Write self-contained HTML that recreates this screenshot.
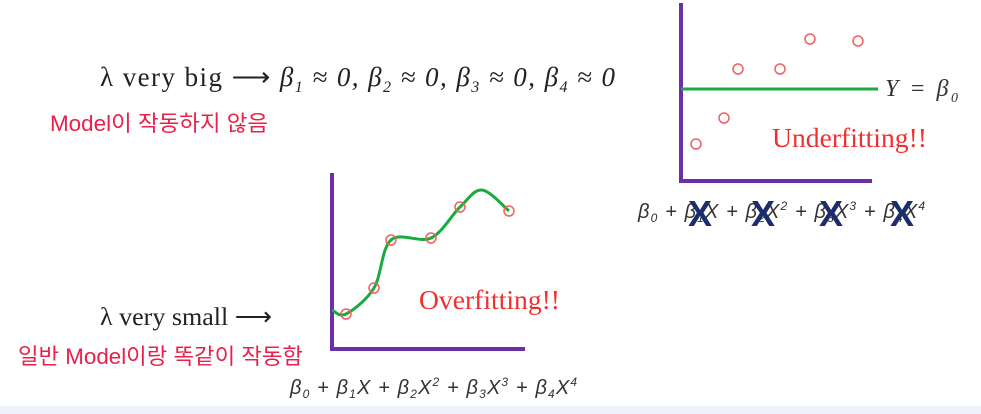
<!DOCTYPE html>
<html><head><meta charset="utf-8"><style>
html,body{margin:0;padding:0;background:#fff;}
svg{display:block;}
.serif{font-family:"Liberation Serif",serif;}
.kr{font-family:"Liberation Sans","Noto Sans CJK KR",sans-serif;fill:#e8204a;}
</style></head><body>
<svg id="s" width="981" height="414" viewBox="0 0 981 414" xmlns="http://www.w3.org/2000/svg">
<rect x="0" y="406" width="981" height="8" fill="#eef1fa"/>
<text x="100" y="86" class="serif" font-size="27" fill="#222" textLength="515" lengthAdjust="spacing">λ very big ⟶  <tspan font-style="italic">β<tspan font-size="16" dy="6">1</tspan><tspan dy="-6"> ≈ 0,  β</tspan><tspan font-size="16" dy="6">2</tspan><tspan dy="-6"> ≈ 0, β</tspan><tspan font-size="16" dy="6">3</tspan><tspan dy="-6"> ≈ 0, β</tspan><tspan font-size="16" dy="6">4</tspan><tspan dy="-6"> ≈ 0</tspan></tspan></text>
<text x="50" y="131" class="kr" font-size="22" textLength="218" lengthAdjust="spacingAndGlyphs">Model이 작동하지 않음</text>
<text x="100" y="325" class="serif" font-size="25" fill="#222" textLength="172" lengthAdjust="spacingAndGlyphs">λ very small ⟶</text>
<text x="18" y="364" class="kr" font-size="22" textLength="285" lengthAdjust="spacingAndGlyphs">일반 Model이랑 똑같이 작동함</text>
<text x="290" y="394" font-family="Liberation Sans,sans-serif" font-style="italic" font-size="20" fill="#333" textLength="287" lengthAdjust="spacing">β<tspan font-size="12" dy="4">0</tspan><tspan dy="-4"> + β</tspan><tspan font-size="12" dy="4">1</tspan><tspan dy="-4">X + β</tspan><tspan font-size="12" dy="4">2</tspan><tspan dy="-4">X</tspan><tspan font-size="12" dy="-8">2</tspan><tspan dy="8"> + β</tspan><tspan font-size="12" dy="4">3</tspan><tspan dy="-4">X</tspan><tspan font-size="12" dy="-8">3</tspan><tspan dy="8"> + β</tspan><tspan font-size="12" dy="4">4</tspan><tspan dy="-4">X</tspan><tspan font-size="12" dy="-8">4</tspan></text>
<text x="638" y="218" font-family="Liberation Sans,sans-serif" font-style="italic" font-size="20" fill="#333" textLength="287" lengthAdjust="spacing">β<tspan font-size="12" dy="4">0</tspan><tspan dy="-4"> + β</tspan><tspan font-size="12" dy="4">1</tspan><tspan dy="-4">X + β</tspan><tspan font-size="12" dy="4">2</tspan><tspan dy="-4">X</tspan><tspan font-size="12" dy="-8">2</tspan><tspan dy="8"> + β</tspan><tspan font-size="12" dy="4">3</tspan><tspan dy="-4">X</tspan><tspan font-size="12" dy="-8">3</tspan><tspan dy="8"> + β</tspan><tspan font-size="12" dy="4">4</tspan><tspan dy="-4">X</tspan><tspan font-size="12" dy="-8">4</tspan></text>
<g font-family="Liberation Sans,sans-serif" font-weight="bold" font-size="36" fill="#1c2d6b" text-anchor="middle">
<text x="700" y="226">X</text>
<text x="763" y="226">X</text>
<text x="831" y="226">X</text>
<text x="902" y="226">X</text>
</g>
<text x="772" y="147" class="serif" font-size="27" fill="#f03030" textLength="155" lengthAdjust="spacingAndGlyphs">Underfitting!!</text>
<text x="419" y="309" class="serif" font-size="27" fill="#f03030" textLength="141" lengthAdjust="spacingAndGlyphs">Overfitting!!</text>
<text x="885" y="96" class="serif" font-style="italic" font-size="24" fill="#333" textLength="73" lengthAdjust="spacing">Y = β<tspan font-size="14" dy="6">0</tspan></text>
</svg>
<script>
// Overfitting chart data (x offset from origin, height above axis)
const overX=[14,42,59,99,128,177];
const overY=[35,61,109,111,142,138];
const curveX=[0,14,42,59,99,128,150,177];
const curveY=[39,35,61,109,111,142,159,138];
// Underfitting chart data
const underX=[15,43,57,99,129,177];
const underY=[37,63,112,112,142,140];
const underLevel=[92];
const NS="http://www.w3.org/2000/svg";
const svg=document.getElementById('s');
function mk(t,a){const e=document.createElementNS(NS,t);for(const k in a)e.setAttribute(k,a[k]);svg.appendChild(e);return e;}
function chart(ox,oy,top,right,name){
  const sx=v=>ox+v, sy=v=>oy-v;
  const v=mk('line',{x1:ox,y1:top,x2:ox,y2:oy,stroke:'#6b2fa8','stroke-width':4});
  
  
  const h=mk('line',{x1:ox-2,y1:oy,x2:right,y2:oy,stroke:'#6b2fa8','stroke-width':4});
  
  
  return {sx,sy};
}
const o=chart(332,349,173,525,'overfit');
let pts=curveX.map((x,i)=>[o.sx(x),o.sy(curveY[i])]);
let d='M'+pts[0][0]+','+pts[0][1];
for(let i=0;i<pts.length-1;i++){
  const p0=pts[i-1]||pts[i],p1=pts[i],p2=pts[i+1],p3=pts[i+2]||p2;
  d+=' C'+(p1[0]+(p2[0]-p0[0])/6)+','+(p1[1]+(p2[1]-p0[1])/6)+' '+(p2[0]-(p3[0]-p1[0])/6)+','+(p2[1]-(p3[1]-p1[1])/6)+' '+p2[0]+','+p2[1];
}
const c=mk('path',{d:d,fill:'none',stroke:'#1aab3c','stroke-width':3});


overX.forEach((x,i)=>{
  const p=mk('circle',{cx:o.sx(x),cy:o.sy(overY[i]),r:5,fill:'none',stroke:'#f06060','stroke-width':1.5});
  
  
});
const u=chart(681,181,3,872,'underfit');
const l=mk('line',{x1:u.sx(0),y1:u.sy(underLevel[0]),x2:u.sx(197),y2:u.sy(underLevel[0]),stroke:'#1aab3c','stroke-width':3});


underX.forEach((x,i)=>{
  const p=mk('circle',{cx:u.sx(x),cy:u.sy(underY[i]),r:5,fill:'none',stroke:'#f06060','stroke-width':1.5});
  
  
});
</script>
</body></html>
